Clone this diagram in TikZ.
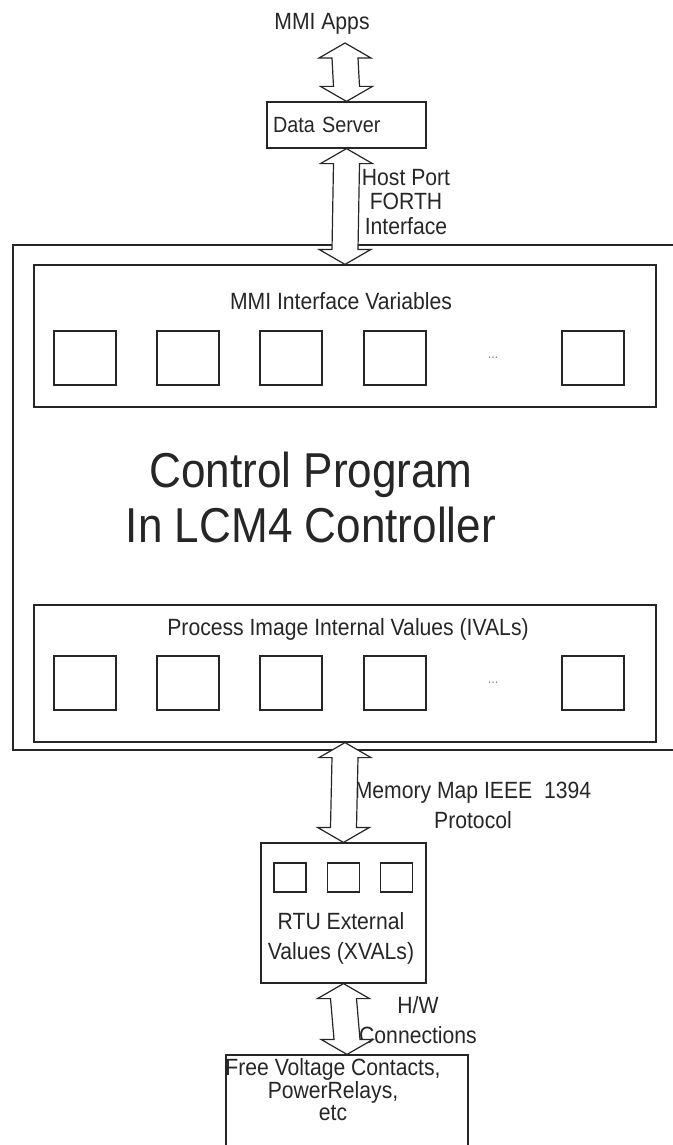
\documentclass[tikz,border=0pt]{standalone}
\usepackage{fontspec}
\setmainfont[FakeStretch=0.9]{Liberation Sans}
\usetikzlibrary{calc}
\definecolor{inkGray}{HTML}{262626}
\newcommand{\fatarrow}[2]{%
  \draw[fatarr] (#1) -- ++(-26,15) -- ++(13,0) -- ($(#2)+(-13,-15)$) -- ++(-13,0)
    -- (#2) -- ++(26,-15) -- ++(-13,0) -- ($(#1)+(13,15)$) -- ++(13,0) -- cycle;}

\begin{document}
\begin{tikzpicture}[x=1pt, y=-1pt,
    box/.style={draw=inkGray, line width=1.2pt, inner sep=0pt},
    cell/.style={box, minimum width=62pt, minimum height=54pt},
    tinycell/.style={box, minimum width=32pt, minimum height=29pt},
    lbl/.style={text=inkGray, font=\fontsize{23.5}{24.5}\selectfont, align=center, inner sep=0pt},
    dotlbl/.style={text=gray, font=\fontsize{14}{14}\selectfont, inner sep=0pt},
    fatarr/.style={draw=inkGray, line width=1.2pt, fill=white, line join=miter}
  ]
    \useasboundingbox (0,0) rectangle (672,1145);

    % controller frame
    \node[box, minimum width=680pt, minimum height=505pt] (lcm) at (353,497.5) {};
    \node[lbl, font=\fontsize{49}{55}\selectfont] (ctrl) at (311,497) {Control Program\\In LCM4 Controller};

    % MMI variables
    \node[box, minimum width=622pt, minimum height=142pt] (vars) at (345,336) {};
    \node[lbl] (varstitle) at (341,301) {MMI Interface Variables};
    \foreach \x [count=\i] in {85,188,291,395,593}
      \node[cell] (v\i) at (\x,358) {};
    \node[dotlbl] (vdots) at (493,358) {...};

    % process image
    \node[box, minimum width=622pt, minimum height=137pt] (ivals) at (345,673.5) {};
    \node[lbl] (ivalstitle) at (348,629) {Process Image Internal Values (IVALs)};
    \foreach \x [count=\i] in {85,188,291,395,593}
      \node[cell] (p\i) at (\x,683) {};
    \node[dotlbl] (pdots) at (493,683) {...};

    % top
    \node[lbl] (apps) at (322,24) {MMI Apps};
    \coordinate (appsend) at (345,43);
    \node[box, lbl, minimum width=159pt, minimum height=46pt, text width=147pt, align=left,
      font=\fontsize{22}{24}\selectfont] (server) at (346.5,125) {Data Server};
    \node[lbl] (hostlbl) at (406,202) {Host Port\\FORTH\\Interface};

    % bottom
    \node[lbl, font=\fontsize{23.5}{30}\selectfont] (memlbl) at (473,805) {Memory Map IEEE~~1394\\Protocol};
    \node[box, minimum width=165pt, minimum height=140pt] (rtu) at (343.5,913) {};
    \foreach \x [count=\i] in {290,343.5,396.5}
      \node[tinycell] (r\i) at (\x,877.5) {};
    \node[lbl, font=\fontsize{23.5}{30}\selectfont] (rtutxt) at (341,938) {RTU External\\Values (XVALs)};
    \node[lbl, font=\fontsize{23.5}{30}\selectfont] (hwlbl) at (418,1020) {H/W\\Connections};
    \node[box, minimum width=242pt, minimum height=110pt] (relays) at (347,1110) {};
    \node[lbl, font=\fontsize{23.5}{22.5}\selectfont] (relaystxt) at (333,1090) {Free Voltage Contacts,\\PowerRelays,\\etc};

    \fatarrow{appsend}{server.north}
    \fatarrow{server.south}{vars.north}
    \fatarrow{ivals.south}{rtu.north}
    \fatarrow{rtu.south}{relays.north}
  \end{tikzpicture}
\end{document}
